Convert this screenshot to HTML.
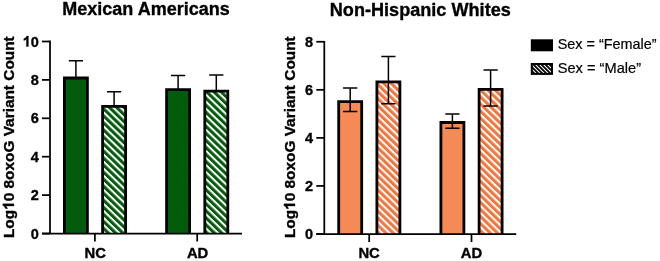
<!DOCTYPE html>
<html><head><meta charset="utf-8"><title>chart</title>
<style>html,body{margin:0;padding:0;background:#fff;}svg{display:block;will-change:transform}.r{stroke:#000;stroke-width:.2px}.b{font-weight:bold;stroke:#000;stroke-width:.35px;stroke-linejoin:round}</style></head>
<body>
<svg width="660" height="261" viewBox="0 0 660 261" font-family="'Liberation Sans', sans-serif" fill="#000">
<defs>
<pattern id="g1" width="5.06" height="5.06" patternUnits="userSpaceOnUse" patternTransform="rotate(-46) translate(2.28,0)"><rect width="5.06" height="5.06" fill="#fff"/><rect width="3.05" height="5.06" fill="#035c0c"/></pattern>
<pattern id="g2" width="5.06" height="5.06" patternUnits="userSpaceOnUse" patternTransform="rotate(-46) translate(0.1,0)"><rect width="5.06" height="5.06" fill="#fff"/><rect width="3.05" height="5.06" fill="#035c0c"/></pattern>
<pattern id="o1" width="5.06" height="5.06" patternUnits="userSpaceOnUse" patternTransform="rotate(-46) translate(2.8,0)"><rect width="5.06" height="5.06" fill="#fff"/><rect width="3.05" height="5.06" fill="#f4753c"/></pattern>
<pattern id="o2" width="5.06" height="5.06" patternUnits="userSpaceOnUse" patternTransform="rotate(-46) translate(4.44,0)"><rect width="5.06" height="5.06" fill="#fff"/><rect width="3.05" height="5.06" fill="#f4753c"/></pattern>
<pattern id="hk" width="2.85" height="2.85" patternUnits="userSpaceOnUse" patternTransform="rotate(-45) translate(0,0)"><rect width="2.85" height="2.85" fill="#fff"/><rect width="1.85" height="2.85" fill="#000"/></pattern>
</defs>
<rect width="660" height="261" fill="#fff"/>
<text x="146.0" y="15.2" font-size="18" class="b" text-anchor="middle">Mexican Americans</text>
<g transform="translate(13.90,137.2) rotate(-90)"><text font-size="15.4" class="b" text-anchor="middle">Log<tspan visibility="hidden">1</tspan>0 8oxoG Variant Count</text><path transform="translate(-72.71,0) scale(0.00752,-0.00752)" d="M805 0H524V1059Q370 915 161 846V1101Q271 1137 400 1237.5Q529 1338 577 1472H805Z" stroke="#000" stroke-width="46.5" stroke-linejoin="round"/></g>
<path d="M75.90 60.80V78.00M68.80 60.80H83.00" stroke="#000" stroke-width="1.5" fill="none"/>
<rect x="64.40" y="78.00" width="23.00" height="155.50" fill="#035c0c"/>
<path d="M64.40 233.50V78.00H87.40V233.50" fill="none" stroke="#000" stroke-width="2.8" stroke-linejoin="miter"/>
<path d="M114.10 91.80V106.40M107.00 91.80H121.20" stroke="#000" stroke-width="1.5" fill="none"/>
<rect x="102.60" y="106.40" width="23.00" height="127.10" fill="url(#g1)"/>
<path d="M102.60 233.50V106.40H125.60V233.50" fill="none" stroke="#000" stroke-width="2.8" stroke-linejoin="miter"/>
<path d="M178.10 75.50V89.70M171.00 75.50H185.20" stroke="#000" stroke-width="1.5" fill="none"/>
<rect x="166.60" y="89.70" width="23.00" height="143.80" fill="#035c0c"/>
<path d="M166.60 233.50V89.70H189.60V233.50" fill="none" stroke="#000" stroke-width="2.8" stroke-linejoin="miter"/>
<path d="M216.30 74.90V91.20M209.20 74.90H223.40" stroke="#000" stroke-width="1.5" fill="none"/>
<rect x="204.80" y="91.20" width="23.00" height="142.30" fill="url(#g2)"/>
<path d="M204.80 233.50V91.20H227.80V233.50" fill="none" stroke="#000" stroke-width="2.8" stroke-linejoin="miter"/>
<path d="M50.00 40.62V233.50M42.00 233.50H242.00" stroke="#000" stroke-width="1.75" fill="none"/>
<path d="M42.00 233.50H50.00" stroke="#000" stroke-width="1.75"/>
<text x="38.80" y="238.50" font-size="14.5" class="b" text-anchor="end">0</text>
<path d="M42.00 195.10H50.00" stroke="#000" stroke-width="1.75"/>
<text x="38.80" y="200.10" font-size="14.5" class="b" text-anchor="end">2</text>
<path d="M42.00 156.70H50.00" stroke="#000" stroke-width="1.75"/>
<text x="38.80" y="161.70" font-size="14.5" class="b" text-anchor="end">4</text>
<path d="M42.00 118.30H50.00" stroke="#000" stroke-width="1.75"/>
<text x="38.80" y="123.30" font-size="14.5" class="b" text-anchor="end">6</text>
<path d="M42.00 79.90H50.00" stroke="#000" stroke-width="1.75"/>
<text x="38.80" y="84.90" font-size="14.5" class="b" text-anchor="end">8</text>
<path d="M42.00 41.50H50.00" stroke="#000" stroke-width="1.75"/>
<path transform="translate(22.68,46.50) scale(0.00708,-0.00708)" d="M805 0H524V1059Q370 915 161 846V1101Q271 1137 400 1237.5Q529 1338 577 1472H805Z" stroke="#000" stroke-width="49.4" stroke-linejoin="round"/>
<text x="38.80" y="46.50" font-size="14.5" class="b" text-anchor="end">0</text>
<path d="M94.90 233.50V241.50" stroke="#000" stroke-width="1.75"/>
<text x="95.30" y="257.8" font-size="14.8" class="b" text-anchor="middle">NC</text>
<path d="M197.20 233.50V241.50" stroke="#000" stroke-width="1.75"/>
<text x="197.60" y="257.8" font-size="14.8" class="b" text-anchor="middle">AD</text>
<text x="420.3" y="15.7" font-size="18" class="b" text-anchor="middle" textLength="181" lengthAdjust="spacingAndGlyphs">Non-Hispanic Whites</text>
<g transform="translate(295.00,137.2) rotate(-90)"><text font-size="15.4" class="b" text-anchor="middle">Log<tspan visibility="hidden">1</tspan>0 8oxoG Variant Count</text><path transform="translate(-72.71,0) scale(0.00752,-0.00752)" d="M805 0H524V1059Q370 915 161 846V1101Q271 1137 400 1237.5Q529 1338 577 1472H805Z" stroke="#000" stroke-width="46.5" stroke-linejoin="round"/></g>
<path d="M350.20 88.10V101.60M343.10 88.10H357.30" stroke="#000" stroke-width="1.5" fill="none"/>
<rect x="338.70" y="101.60" width="23.00" height="132.40" fill="#f48a56"/>
<path d="M338.70 234.00V101.60H361.70V234.00" fill="none" stroke="#000" stroke-width="2.8" stroke-linejoin="miter"/>
<path d="M350.20 111.50V101.60M343.10 111.50H357.30" stroke="#000" stroke-width="1.5" fill="none"/>
<path d="M388.40 56.40V81.90M381.30 56.40H395.50" stroke="#000" stroke-width="1.5" fill="none"/>
<rect x="376.90" y="81.90" width="23.00" height="152.10" fill="url(#o1)"/>
<path d="M376.90 234.00V81.90H399.90V234.00" fill="none" stroke="#000" stroke-width="2.8" stroke-linejoin="miter"/>
<path d="M388.40 103.70V81.90M381.30 103.70H395.50" stroke="#000" stroke-width="1.5" fill="none"/>
<path d="M452.40 114.10V122.50M445.30 114.10H459.50" stroke="#000" stroke-width="1.5" fill="none"/>
<rect x="440.90" y="122.50" width="23.00" height="111.50" fill="#f48a56"/>
<path d="M440.90 234.00V122.50H463.90V234.00" fill="none" stroke="#000" stroke-width="2.8" stroke-linejoin="miter"/>
<path d="M452.40 128.20V122.50M445.30 128.20H459.50" stroke="#000" stroke-width="1.5" fill="none"/>
<path d="M490.60 69.90V89.40M483.50 69.90H497.70" stroke="#000" stroke-width="1.5" fill="none"/>
<rect x="479.10" y="89.40" width="23.00" height="144.60" fill="url(#o2)"/>
<path d="M479.10 234.00V89.40H502.10V234.00" fill="none" stroke="#000" stroke-width="2.8" stroke-linejoin="miter"/>
<path d="M490.60 105.90V89.40M483.50 105.90H497.70" stroke="#000" stroke-width="1.5" fill="none"/>
<path d="M324.30 40.88V234.00M316.30 234.00H516.30" stroke="#000" stroke-width="1.75" fill="none"/>
<path d="M316.30 234.00H324.30" stroke="#000" stroke-width="1.75"/>
<text x="313.10" y="239.00" font-size="14.5" class="b" text-anchor="end">0</text>
<path d="M316.30 185.94H324.30" stroke="#000" stroke-width="1.75"/>
<text x="313.10" y="190.94" font-size="14.5" class="b" text-anchor="end">2</text>
<path d="M316.30 137.88H324.30" stroke="#000" stroke-width="1.75"/>
<text x="313.10" y="142.88" font-size="14.5" class="b" text-anchor="end">4</text>
<path d="M316.30 89.82H324.30" stroke="#000" stroke-width="1.75"/>
<text x="313.10" y="94.82" font-size="14.5" class="b" text-anchor="end">6</text>
<path d="M316.30 41.76H324.30" stroke="#000" stroke-width="1.75"/>
<text x="313.10" y="46.76" font-size="14.5" class="b" text-anchor="end">8</text>
<path d="M369.20 234.00V242.00" stroke="#000" stroke-width="1.75"/>
<text x="369.10" y="258.3" font-size="14.8" class="b" text-anchor="middle">NC</text>
<path d="M471.50 234.00V242.00" stroke="#000" stroke-width="1.75"/>
<text x="471.40" y="258.3" font-size="14.8" class="b" text-anchor="middle">AD</text>
<rect x="530.8" y="39.3" width="22.2" height="12" fill="#000"/>
<rect x="531.8" y="64" width="20.2" height="9.9" fill="url(#hk)" stroke="#000" stroke-width="2"/>
<text x="557.7" y="49.1" font-size="15" class="r" textLength="98.8" lengthAdjust="spacingAndGlyphs">Sex = “Female”</text>
<text x="557.7" y="73.0" font-size="15" class="r" textLength="83.4" lengthAdjust="spacingAndGlyphs">Sex = “Male”</text>
</svg>
</body></html>
